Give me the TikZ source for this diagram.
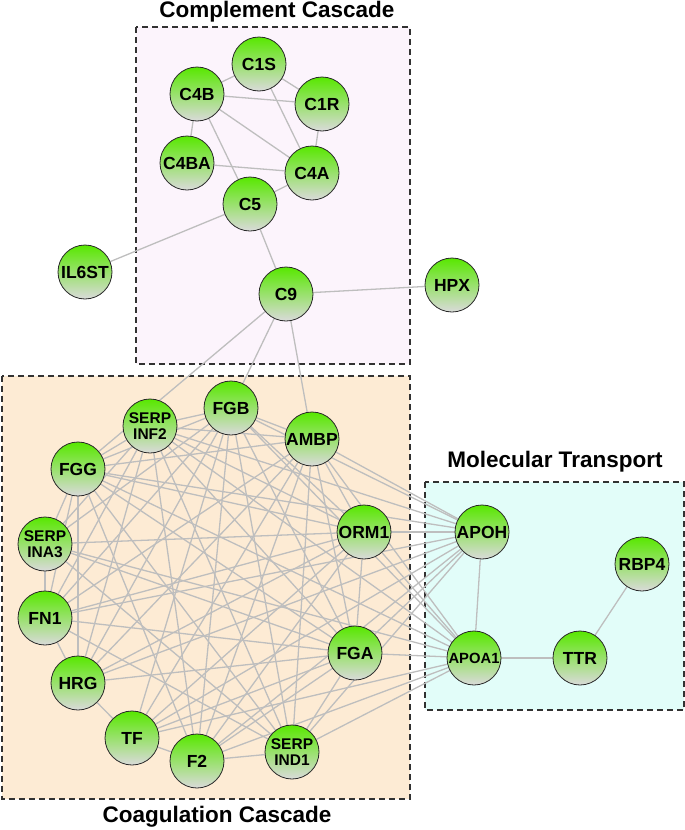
\documentclass[tikz,border=0pt]{standalone}
\usepackage{fontspec}
\setmainfont{Liberation Sans}
\pgfdeclarelayer{bg}
\pgfdeclarelayer{edges}
\pgfsetlayers{bg,edges,main}
\definecolor{edgegray}{RGB}{190,190,190}
\definecolor{nodetop}{RGB}{88,232,0}
\definecolor{nodebot}{RGB}{218,218,218}
\definecolor{nodeline}{RGB}{40,40,40}
\definecolor{compfill}{RGB}{252,244,252}
\definecolor{coagfill}{RGB}{253,235,212}
\definecolor{transfill}{RGB}{226,253,249}
\definecolor{boxline}{RGB}{50,50,50}
\tikzset{
  prot/.style={circle, minimum size=54pt, inner sep=0pt, draw=nodeline, line width=0.8pt,
    top color=nodetop, bottom color=nodebot, font=\fontsize{17.5}{18}\selectfont\bfseries},
  prottwo/.style={prot, align=center, font=\fontsize{15.5}{16}\selectfont\bfseries},
  edge/.style={draw=edgegray, line width=1.3pt},
  groupbox/.style={draw=boxline, line width=1.4pt, dash pattern=on 6pt off 4pt},
  grouptitle/.style={anchor=base, font=\fontsize{22.5}{24}\selectfont\bfseries}
}
\begin{document}
\begin{tikzpicture}[x=1pt,y=-1pt]
\useasboundingbox (0,0) rectangle (685,830);
% nodes
\node[prot] (C1S) at (259,64) {C1S};
\node[prot] (C4B) at (197,94) {C4B};
\node[prot] (C1R) at (322,104) {C1R};
\node[prot] (C4BA) at (187,163) {C4BA};
\node[prot] (C4A) at (312,173) {C4A};
\node[prot] (C5) at (250,204) {C5};
\node[prot] (C9) at (286,294) {C9};
\node[prot] (IL6ST) at (85,272) {IL6ST};
\node[prot] (HPX) at (452,285) {HPX};
\node[prot] (FGB) at (231,408) {FGB};
\node[prottwo] (SF2) at (150,426) {SERP\\INF2};
\node[prot] (AMBP) at (312,439) {AMBP};
\node[prot] (FGG) at (78,469) {FGG};
\node[prot] (ORM1) at (364,532) {ORM1};
\node[prottwo] (SA3) at (45,544) {SERP\\INA3};
\node[prot] (FN1) at (45,618) {FN1};
\node[prot] (FGA) at (355,653) {FGA};
\node[prot] (HRG) at (78,683) {HRG};
\node[prot] (TF) at (132,738) {TF};
\node[prot] (F2) at (197,761) {F2};
\node[prottwo] (SD1) at (292,752) {SERP\\IND1};
\node[prot] (APOH) at (482,532) {APOH};
\node[prot, font=\fontsize{14.8}{15}\selectfont\bfseries] (APOA1) at (474,658) {APOA1};
\node[prot] (TTR) at (580,658) {TTR};
\node[prot] (RBP4) at (642,564) {RBP4};
% group boxes and titles
\begin{pgfonlayer}{bg}
\draw[groupbox, fill=compfill] (136,27) rectangle (410,364);
\draw[groupbox, fill=coagfill] (2,376) rectangle (410,799);
\draw[groupbox, fill=transfill] (425,482) rectangle (684,710);
\end{pgfonlayer}
\node[grouptitle] (t1) at (277,17) {Complement Cascade};
\node[grouptitle] (t2) at (217,822) {Coagulation Cascade};
\node[grouptitle] (t3) at (555,467) {Molecular Transport};
% edges
\begin{pgfonlayer}{edges}
\foreach \a/\b in {C4B/C1S, C4B/C1R, C1S/C1R, C1S/C4A, C1R/C4A, C4B/C4A, C4B/C4BA, C4B/C5,
  C4BA/C4A, C4A/C5, C5/IL6ST, C5/C9, C9/HPX, C9/FGG, C9/FGB, C9/AMBP,
  APOH/APOA1, APOA1/TTR, TTR/RBP4,
  APOH/AMBP, APOH/FGB, APOH/SF2, APOH/FGG, APOH/ORM1, APOH/FN1, APOH/HRG, APOH/TF, APOH/F2, APOH/FGA, APOH/SD1,
  APOA1/ORM1, APOA1/AMBP, APOA1/FGB, APOA1/SF2, APOA1/FGG, APOA1/SA3, APOA1/FGA, APOA1/TF, APOA1/F2, APOA1/SD1,
  FGB/SF2, FGB/AMBP, FGB/FGG, FGB/SA3, FGB/FN1, FGB/HRG, FGB/TF, FGB/F2, FGB/SD1, FGB/FGA, FGB/ORM1,
  SF2/FGG, SF2/SA3, SF2/FN1, SF2/HRG, SF2/F2, SF2/SD1, SF2/FGA, SF2/ORM1, SF2/AMBP,
  AMBP/FGG, AMBP/ORM1, AMBP/FN1, AMBP/HRG, AMBP/TF, AMBP/F2, AMBP/SD1, AMBP/FGA,
  FGG/SA3, FGG/FN1, FGG/HRG, FGG/F2, FGG/SD1, FGG/FGA, FGG/ORM1,
  ORM1/SA3, ORM1/FN1, ORM1/HRG, ORM1/F2, ORM1/FGA, ORM1/TF,
  SA3/FN1, SA3/FGA, SA3/SD1,
  FN1/HRG, FN1/FGA, FN1/SD1,
  FGA/HRG, FGA/TF, FGA/F2, FGA/SD1,
  HRG/TF, TF/F2, F2/SD1}
  \draw[edge] (\a) -- (\b);
\end{pgfonlayer}
\end{tikzpicture}
\end{document}
